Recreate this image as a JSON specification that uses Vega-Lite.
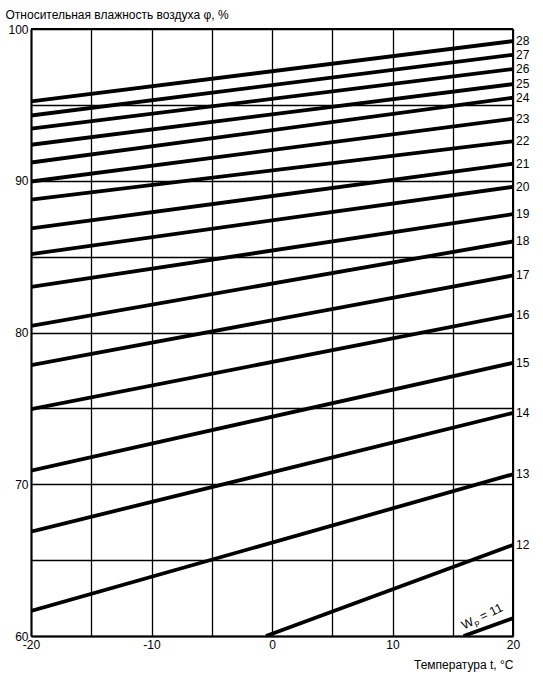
{
  "$schema": "https://vega.github.io/schema/vega-lite/v6.json",
  "autosize": "none",
  "padding": {"left": 31, "top": 29, "right": 30, "bottom": 40},
  "width": 482,
  "height": 607,
  "background": "white",
  "config": {
    "font": "Liberation Sans",
    "view": {"stroke": null},
    "axis": {"labelFont": "Liberation Sans", "titleFont": "Liberation Sans", "labelColor": "black", "titleColor": "black", "labelFontSize": 12, "titleFontSize": 12, "titleFontWeight": "normal"}
  },
  "data": {
    "values": [
      {"w": 28, "t": -20, "phi": 95.23}, {"w": 28, "t": 20, "phi": 99.2},
      {"w": 27, "t": -20, "phi": 94.3}, {"w": 27, "t": 20, "phi": 98.3},
      {"w": 26, "t": -20, "phi": 93.43}, {"w": 26, "t": 20, "phi": 97.36},
      {"w": 25, "t": -20, "phi": 92.37}, {"w": 25, "t": 20, "phi": 96.37},
      {"w": 24, "t": -20, "phi": 91.2}, {"w": 24, "t": 20, "phi": 95.47},
      {"w": 23, "t": -20, "phi": 89.95}, {"w": 23, "t": 20, "phi": 94.09},
      {"w": 22, "t": -20, "phi": 88.75}, {"w": 22, "t": 20, "phi": 92.6},
      {"w": 21, "t": -20, "phi": 86.86}, {"w": 21, "t": 20, "phi": 91.12},
      {"w": 20, "t": -20, "phi": 85.17}, {"w": 20, "t": 20, "phi": 89.6},
      {"w": 19, "t": -20, "phi": 83.0}, {"w": 19, "t": 20, "phi": 87.8},
      {"w": 18, "t": -20, "phi": 80.44}, {"w": 18, "t": 20, "phi": 86.0},
      {"w": 17, "t": -20, "phi": 77.85}, {"w": 17, "t": 20, "phi": 83.76},
      {"w": 16, "t": -20, "phi": 74.95}, {"w": 16, "t": 20, "phi": 81.17},
      {"w": 15, "t": -20, "phi": 70.9}, {"w": 15, "t": 20, "phi": 78.0},
      {"w": 14, "t": -20, "phi": 66.88}, {"w": 14, "t": 20, "phi": 74.7},
      {"w": 13, "t": -20, "phi": 61.65}, {"w": 13, "t": 20, "phi": 70.66},
      {"w": 12, "t": -0.5, "phi": 60.0}, {"w": 12, "t": 20, "phi": 66.0},
      {"w": 11, "t": 15.9, "phi": 60.0}, {"w": 11, "t": 20, "phi": 61.17}
    ]
  },
  "layer": [
    {
      "mark": {"type": "line", "color": "black", "strokeWidth": 3.8, "clip": true},
      "encoding": {
        "x": {
          "field": "t", "type": "quantitative",
          "scale": {"domain": [-20, 20], "nice": false, "zero": false},
          "axis": {
            "values": [-20, -15, -10, -5, 0, 5, 10, 15, 20],
            "labelExpr": "datum.value % 10 == 0 ? '' + datum.value : ''",
            "labelFlush": false,
            "ticks": false, "labelPadding": 3,
            "grid": true, "gridColor": "black", "gridOpacity": 1, "gridWidth": 1.3,
            "domainColor": "black", "domainWidth": 2,
            "title": "Температура t, °C",
            "titleAlign": "right", "titleAnchor": "end", "titleX": 482, "titleY": 32, "titleBaseline": "alphabetic"
          }
        },
        "y": {
          "field": "phi", "type": "quantitative",
          "scale": {"domain": [60, 100], "nice": false, "zero": false},
          "axis": {
            "values": [60, 65, 70, 75, 80, 85, 90, 95, 100],
            "labelExpr": "datum.value % 10 == 0 ? '' + datum.value : ''",
            "labelFlush": false,
            "ticks": false, "labelPadding": 3,
            "grid": true, "gridColor": "black", "gridOpacity": 1, "gridWidth": 1.3,
            "domainColor": "black", "domainWidth": 2,
            "title": "Относительная влажность воздуха φ, %",
            "titleAngle": 0, "titleAlign": "left", "titleAnchor": "start", "titleX": -26, "titleY": -11, "titleBaseline": "alphabetic"
          }
        },
        "detail": {"field": "w", "type": "nominal"}
      }
    },
    {
      "mark": {"type": "rule", "color": "black", "strokeWidth": 2},
      "encoding": {"x": {"datum": 20, "type": "quantitative"}}
    },
    {
      "mark": {"type": "rule", "color": "black", "strokeWidth": 2},
      "encoding": {"y": {"datum": 100, "type": "quantitative"}}
    },
    {
      "transform": [{"filter": "datum.t == 20 && datum.w >= 12"}],
      "mark": {"type": "text", "align": "left", "baseline": "middle", "dx": 3, "fontSize": 12, "color": "black", "font": "Liberation Sans"},
      "encoding": {
        "x": {"field": "t", "type": "quantitative"},
        "y": {"field": "phi", "type": "quantitative"},
        "text": {"field": "w", "type": "quantitative"}
      }
    },
    {
      "transform": [{"filter": "datum.t == 20 && datum.w == 11"}],
      "mark": {"type": "text", "align": "center", "baseline": "middle", "angle": 334, "dx": -27, "dy": -15, "fontSize": 12.5, "color": "black", "font": "Liberation Sans"},
      "encoding": {
        "x": {"field": "t", "type": "quantitative"},
        "y": {"field": "phi", "type": "quantitative"},
        "text": {"value": "Wₚ = 11"}
      }
    }
  ]
}
